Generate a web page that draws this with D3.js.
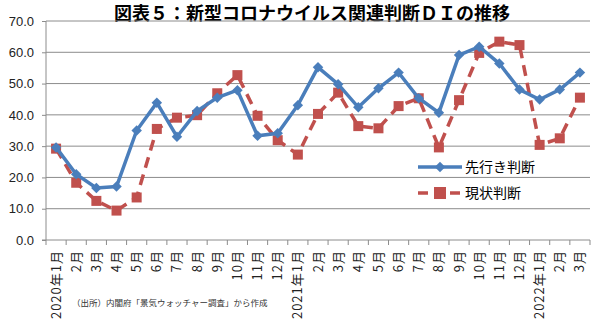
<!DOCTYPE html>
<html>
<head>
<meta charset="utf-8">
<script src="https://cdn.jsdelivr.net/npm/d3@7"></script>
<style>
  body { margin: 0; background: #fff; }
  svg { font-family: "Noto Sans CJK JP", "Noto Sans", sans-serif; }
  .grid line { stroke: #8c8c8c; stroke-width: 1; }
  .axis path, .axis line { stroke: #8c8c8c; }
  .axis text { fill: #222; }
</style>
</head>
<body>
<svg></svg>
<script>

var width = 600;
var height = 330;

// months 2020年1月 .. 2022年3月
var months = ["2020年1月","2月","3月","4月","5月","6月","7月","8月","9月","10月","11月","12月",
              "2021年1月","2月","3月","4月","5月","6月","7月","8月","9月","10月","11月","12月",
              "2022年1月","2月","3月"];

var outlook = [29.6, 21.0, 16.6, 17.1, 35.0, 43.9, 33.0, 41.2, 45.5, 47.9, 33.3, 34.1,
               43.1, 55.2, 49.8, 42.4, 48.5, 53.5, 45.3, 40.7, 59.1, 61.8, 56.4, 48.1,
               44.9, 48.1, 53.5];

var current = [29.2, 18.3, 12.5, 9.4, 13.6, 35.5, 39.1, 39.9, 46.9, 52.7, 39.7, 31.9,
               27.3, 40.3, 47.1, 36.4, 35.7, 42.8, 45.3, 29.6, 44.7, 59.8, 63.4, 62.3,
               30.4, 32.5, 45.5];

var yTicks = [0, 10, 20, 30, 40, 50, 60, 70];

var seriesNames = ["先行き判断", "現状判断"];
var blue = "#4a7ebb";
var red = "#c0504d";

var svg = d3.select("svg").attr("width", width).attr("height", height);

var plotLeft = 46, plotRight = 590, plotTop = 21, plotBottom = 240;

var x = d3.scaleBand().domain(d3.range(months.length)).range([plotLeft, plotRight]);
var y = d3.scaleLinear().domain([0, 70]).range([plotBottom, plotTop]);

// title
svg.append("text")
  .attr("x", 312).attr("y", 19.5)
  .attr("text-anchor", "middle")
  .style("font-size", "18px")
  .style("font-weight", "bold")
  .text("図表５：新型コロナウイルス関連判断ＤＩの推移");

// horizontal gridlines
svg.append("g").attr("class", "grid")
  .selectAll("line").data(yTicks.slice(1)).enter().append("line")
  .attr("x1", plotLeft).attr("x2", plotRight)
  .attr("y1", function(d) { return y(d); })
  .attr("y2", function(d) { return y(d); });

// y axis
var yAxis = svg.append("g").attr("class", "axis")
  .attr("transform", "translate(" + plotLeft + ",0)")
  .call(d3.axisLeft(y).tickValues(yTicks).tickFormat(d3.format(".1f")).tickSize(4).tickPadding(8));
yAxis.selectAll("text").style("font-size", "13px");
yAxis.select(".domain").attr("d", "M0," + plotTop + "V" + plotBottom);

// x axis: ticks at category boundaries
var xAxisG = svg.append("g").attr("class", "axis")
  .attr("transform", "translate(0," + plotBottom + ")");
xAxisG.append("line").attr("x1", plotLeft - 4).attr("x2", plotRight).attr("y1", 0).attr("y2", 0);
xAxisG.selectAll(".bt").data(d3.range(months.length + 1)).enter().append("line")
  .attr("class", "bt")
  .attr("x1", function(i) { return plotLeft + i * x.step(); })
  .attr("x2", function(i) { return plotLeft + i * x.step(); })
  .attr("y1", 0).attr("y2", 5);
xAxisG.selectAll("text").data(months).enter().append("text")
  .attr("transform", function(d, i) {
    return "translate(" + (x(i) + x.bandwidth() / 2 + 4.5) + ",10) rotate(-90)";
  })
  .attr("text-anchor", "end")
  .style("font-size", "13px")
  .style("letter-spacing", "1px")
  .text(function(d) { return d; });

// source note
svg.append("text")
  .attr("x", 72).attr("y", 306)
  .style("font-size", "8.5px")
  .style("fill", "#333")
  .text("（出所）内閣府「景気ウォッチャー調査」から作成");

var line = d3.line()
  .x(function(d, i) { return x(i) + x.bandwidth() / 2; })
  .y(function(d) { return y(d); });

// 現状判断 (red dashed, squares)
svg.append("path").datum(current)
  .attr("d", line)
  .attr("fill", "none")
  .attr("stroke", red)
  .attr("stroke-width", 3.5)
  .attr("stroke-dasharray", "11,7");
svg.selectAll(".sq").data(current).enter().append("rect")
  .attr("class", "sq")
  .attr("x", function(d, i) { return x(i) + x.bandwidth() / 2 - 5; })
  .attr("y", function(d) { return y(d) - 5; })
  .attr("width", 10).attr("height", 10)
  .attr("fill", red);

// 先行き判断 (blue solid, diamonds)
svg.append("path").datum(outlook)
  .attr("d", line)
  .attr("fill", "none")
  .attr("stroke", blue)
  .attr("stroke-width", 3.5);
var diamond = d3.symbol().type(d3.symbolDiamond2).size(70);
svg.selectAll(".dm").data(outlook).enter().append("path")
  .attr("class", "dm")
  .attr("d", diamond)
  .attr("transform", function(d, i) {
    return "translate(" + (x(i) + x.bandwidth() / 2) + "," + y(d) + ")";
  })
  .attr("fill", blue);

// legend
var legend = svg.append("g").attr("transform", "translate(418,167)");
legend.append("line").attr("x1", 0).attr("x2", 44).attr("y1", 0).attr("y2", 0)
  .attr("stroke", blue).attr("stroke-width", 3.5);
legend.append("path").attr("d", diamond).attr("transform", "translate(22,0)").attr("fill", blue);
legend.append("text").attr("x", 47).attr("y", 5).style("font-size", "14px").text(seriesNames[0]);

legend.append("line").attr("x1", 0).attr("x2", 44).attr("y1", 26).attr("y2", 26)
  .attr("stroke", red).attr("stroke-width", 3.5).attr("stroke-dasharray", "10,6");
legend.append("rect").attr("x", 16).attr("y", 20).attr("width", 12).attr("height", 12).attr("fill", red);
legend.append("text").attr("x", 47).attr("y", 31).style("font-size", "14px").text(seriesNames[1]);

</script>
</body>
</html>
